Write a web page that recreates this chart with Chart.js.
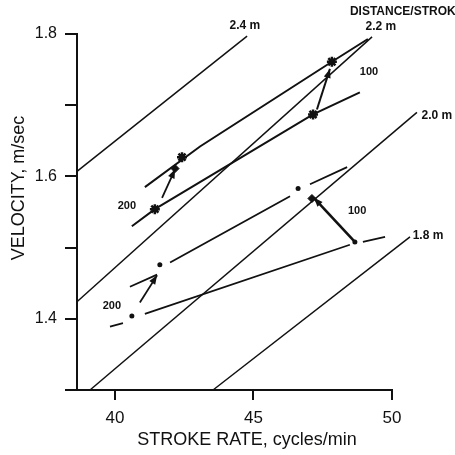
<!DOCTYPE html>
<html lang="en">
<head>
    <meta charset="UTF-8">
    <script src="https://cdn.jsdelivr.net/npm/chart.js@4.4.0/dist/chart.umd.min.js"></script>
    <title>Velocity vs stroke rate</title>
    <style>
        body { margin: 0; background: #fff; }
        #wrap { width: 455px; height: 455px; }
    </style>
</head>
<body>
    <div id="wrap"><canvas id="myChart"></canvas></div>
    <script>

        // axis ticks
        var xTicks = [40, 45, 50];
        var yTicks = [1.3, 1.4, 1.5, 1.6, 1.7, 1.8];
        var yTickLabels = ['', '1.4', '', '1.6', '', '1.8'];

        // distance per stroke lines (end points)
        var isoNames = ['2.4 m', '2.2 m', '2.0 m', '1.8 m'];
        var isoRate = [[38.63, 44.77], [38.63, 49.28], [39.10, 50.90], [43.54, 50.65]];
        var isoVel = [[1.607, 1.797], [1.424, 1.796], [1.300, 1.690], [1.300, 1.515]];
        var isoLabelRate = [44.69, 49.60, 51.62, 51.30];
        var isoLabelVel = [1.811, 1.810, 1.685, 1.517];

        // upper group (stars)
        var upLowRate = [40.61, 41.44, 47.15, 48.84];
        var upLowVel = [1.530, 1.554, 1.687, 1.718];
        var upHighRate = [41.08, 43.07, 47.83, 49.13];
        var upHighVel = [1.585, 1.642, 1.761, 1.793];
        var starRate = [41.44, 42.42, 47.15, 47.83];
        var starVel = [1.554, 1.627, 1.687, 1.761];

        // lower group (dots), null = break in the line
        var loLowRate = [39.82, 40.29, 40.29, 41.08, 48.48, 48.48, 48.95, 49.75];
        var loLowVel = [1.389, 1.394, null, 1.407, 1.504, null, 1.508, 1.515];
        var loHighRate = [40.54, 41.52, 41.52, 41.99, 46.32, 46.32, 47.04, 48.38];
        var loHighVel = [1.445, 1.462, null, 1.479, 1.572, null, 1.589, 1.613];
        var dotRate = [40.61, 41.62, 46.61, 48.66];
        var dotVel = [1.404, 1.476, 1.583, 1.508];

        var squareRate = [42.17, 47.11];
        var squareVel = [1.611, 1.569];

        // arrows: [tail, head]
        var arrowRate = [[41.70, 42.17], [47.29, 47.76], [40.90, 41.52], [48.66, 47.18]];
        var arrowVel = [[1.570, 1.610], [1.694, 1.751], [1.423, 1.461], [1.508, 1.570]];
        var arrowWidth = [1.8, 2, 1.8, 2.6];

        // race distance labels
        var raceNames = ['200', '100', '200', '100'];
        var raceRate = [40.43, 49.17, 39.89, 48.74];
        var raceVel = [1.559, 1.746, 1.418, 1.552];

        var xTitle = 'STROKE RATE, cycles/min';
        var yTitle = 'VELOCITY, m/sec';

        function pts(rs, vs) {
            return rs.map(function (r, i) { return { x: r, y: vs[i] }; });
        }

        var datasets = [];
        isoNames.forEach(function (n, i) {
            datasets.push({ data: pts(isoRate[i], isoVel[i]), borderColor: '#111', borderWidth: 1.5,
                showLine: true, pointRadius: 0, clip: false });
        });
        datasets.push({ data: pts(upLowRate, upLowVel), borderColor: '#111', borderWidth: 2, showLine: true, pointRadius: 0, clip: false });
        datasets.push({ data: pts(upHighRate, upHighVel), borderColor: '#111', borderWidth: 2, showLine: true, pointRadius: 0, clip: false });
        datasets.push({ data: pts(loLowRate, loLowVel), borderColor: '#111', borderWidth: 1.8, showLine: true, spanGaps: false, pointRadius: 0, clip: false });
        datasets.push({ data: pts(loHighRate, loHighVel), borderColor: '#111', borderWidth: 1.8, showLine: true, spanGaps: false, pointRadius: 0, clip: false });
        arrowRate.forEach(function (a, i) {
            datasets.push({ data: pts(a, arrowVel[i]), borderColor: '#111', borderWidth: arrowWidth[i],
                showLine: true, pointRadius: 0, clip: false, arrow: true });
        });
        datasets.push({ data: pts(starRate, starVel), pointStyle: 'star', pointRadius: 5, borderWidth: 2.5,
            borderColor: '#111', backgroundColor: '#111', showLine: false });
        datasets.push({ data: pts(squareRate, squareVel), pointStyle: 'rectRot', pointRadius: 4, borderWidth: 1,
            borderColor: '#111', backgroundColor: '#111', showLine: false });
        datasets.push({ data: pts(dotRate, dotVel), pointStyle: 'circle', pointRadius: 2.5, borderWidth: 0,
            backgroundColor: '#111', showLine: false });

        var extras = {
            id: 'extras',
            afterDatasetsDraw: function (chart) {
                var ctx = chart.ctx;
                var xs = chart.scales.x, ys = chart.scales.y;
                ctx.save();
                ctx.fillStyle = '#111';
                // arrow heads
                chart.data.datasets.forEach(function (ds, i) {
                    if (!ds.arrow) return;
                    var p = chart.getDatasetMeta(i).data;
                    var a = p[0], b = p[1];
                    var ang = Math.atan2(b.y - a.y, b.x - a.x);
                    var L = 9, W = 3.5;
                    ctx.beginPath();
                    ctx.moveTo(b.x, b.y);
                    ctx.lineTo(b.x - L * Math.cos(ang) + W * Math.sin(ang), b.y - L * Math.sin(ang) - W * Math.cos(ang));
                    ctx.lineTo(b.x - L * Math.cos(ang) - W * Math.sin(ang), b.y - L * Math.sin(ang) + W * Math.cos(ang));
                    ctx.closePath();
                    ctx.fill();
                });
                ctx.textAlign = 'center';
                ctx.textBaseline = 'middle';
                ctx.font = 'bold 12px "Liberation Sans", sans-serif';
                isoNames.forEach(function (n, i) {
                    ctx.fillText(n, xs.getPixelForValue(isoLabelRate[i]), ys.getPixelForValue(isoLabelVel[i]));
                });
                ctx.font = 'bold 11px "Liberation Sans", sans-serif';
                raceNames.forEach(function (n, i) {
                    ctx.fillText(n, xs.getPixelForValue(raceRate[i]), ys.getPixelForValue(raceVel[i]));
                });
                ctx.textAlign = 'left';
                ctx.font = 'bold 12px "Liberation Sans", sans-serif';
                ctx.fillText('DISTANCE/STROKE', xs.getPixelForValue(48.48), ys.getPixelForValue(1.832));

                // axis titles
                ctx.textAlign = 'center';
                ctx.font = '18px "Liberation Sans", sans-serif';
                ctx.fillText(xTitle, 247, 440);
                ctx.translate(19, 188);
                ctx.rotate(-Math.PI / 2);
                ctx.fillText(yTitle, 0, 0);
                ctx.restore();
            }
        };

        var ctx = document.getElementById('myChart').getContext('2d');
        var myChart = new Chart(ctx, {
            type: 'scatter',
            data: { datasets: datasets },
            options: {
                responsive: true,
                maintainAspectRatio: false,
                animation: false,
                layout: { padding: { top: 34, right: 63, left: 0, bottom: 0 } },
                plugins: { legend: { display: false }, tooltip: { enabled: false } },
                scales: {
                    x: {
                        type: 'linear', min: 38.63, max: 50,
                        afterBuildTicks: function (s) { s.ticks = xTicks.map(function (v) { return { value: v }; }); },
                        afterFit: function (s) { s.height = 65; },
                        grid: { drawOnChartArea: false, tickLength: 10, color: '#111', lineWidth: 2 },
                        border: { color: '#111', width: 2 },
                        ticks: { color: '#111', font: { family: 'Liberation Sans', size: 17 }, padding: 8, maxRotation: 0 }
                    },
                    y: {
                        min: 1.3, max: 1.8,
                        afterBuildTicks: function (s) { s.ticks = yTicks.map(function (v) { return { value: v }; }); },
                        afterFit: function (s) { s.width = 77; },
                        grid: { drawOnChartArea: false, tickLength: 12, color: '#111', lineWidth: 2 },
                        border: { color: '#111', width: 2 },
                        ticks: { color: '#111', font: { family: 'Liberation Sans', size: 16 }, padding: 8,
                            callback: function (v, i) { return yTickLabels[i]; } }
                    }
                }
            },
            plugins: [extras]
        });
    </script>
</body>
</html>
